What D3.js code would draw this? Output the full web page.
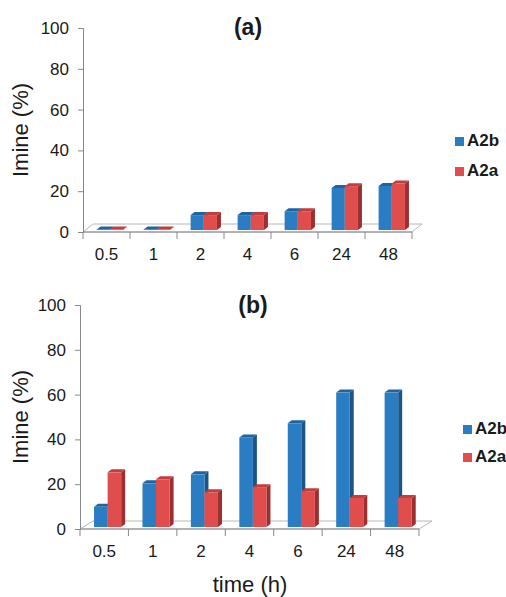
<!DOCTYPE html>
<html>
<meta charset="utf-8">
<style>
    body { margin: 0; background: #fff; }
    text { font-family: "Liberation Sans", Arial, sans-serif; fill: #1a1a1a; }
</style>

<body>
    <script src="https://d3js.org/d3.v7.min.js"></script>
    <script>

        // data
        var times = ["0.5", "1", "2", "4", "6", "24", "48"];
        var series = ["A2b", "A2a"];
        var yTicks = [0, 20, 40, 60, 80, 100];

        var a_A2b = [0.3, 0.3, 7.3, 7.3, 9.2, 20.6, 21.6];
        var a_A2a = [0.3, 0.3, 7.3, 7.3, 9.2, 21.5, 22.8];

        var b_A2b = [9, 19.5, 23.5, 40, 46.3, 60, 60];
        var b_A2a = [24.4, 21.3, 15.5, 17.8, 16, 13, 13];

        // colours: front, side, top
        var colors = {
            A2b: { front: "#2a7dc3", side: "#1c5488", top: "#1f63a0" },
            A2a: { front: "#e04d4d", side: "#9c2f2f", top: "#c23d3d" }
        };

        var svg = d3.select("body").append("svg")
            .attr("width", 506)
            .attr("height", 597);

        // draw one 3D-looking clustered bar panel
        function drawPanel(p) {
            var g = svg.append("g");

            var x0 = d3.scaleBand().domain(times).range([p.axisX, p.xEnd]);
            var bw = x0.bandwidth();
            var x1 = d3.scaleBand().domain(series).range([0, bw * 0.56]);
            var y = d3.scaleLinear().domain([0, 100]).range([p.yBot, p.yTop]);

            // floor
            var fdx = p.floorDx, fdy = -8;
            g.append("path")
                .attr("d", "M" + p.axisX + "," + y(0) +
                    "L" + (p.axisX + fdx) + "," + (y(0) + fdy) +
                    "L" + (p.xEnd + fdx) + "," + (y(0) + fdy) +
                    "L" + p.xEnd + "," + y(0) + "Z")
                .attr("fill", "#fff")
                .attr("stroke", "#b8b8b8")
                .attr("stroke-width", 1);

            // Y axis
            var yAxis = g.append("g")
                .attr("transform", "translate(" + p.axisX + ",0)")
                .call(d3.axisLeft(y).tickValues(yTicks).tickSize(5).tickPadding(9));
            yAxis.select(".domain").attr("stroke", "#888");
            yAxis.selectAll(".tick line").attr("stroke", "#888");
            yAxis.selectAll(".tick text")
                .style("font-size", "17px")
                .style("font-family", "Liberation Sans, Arial, sans-serif")
                .attr("fill", "#1a1a1a");

            // X axis line and category ticks
            g.append("line")
                .attr("x1", p.axisX).attr("x2", p.xEnd)
                .attr("y1", y(0)).attr("y2", y(0))
                .attr("stroke", "#888");
            g.selectAll(".xtick")
                .data(times.concat(["end"]))
                .enter().append("line")
                .attr("x1", function (d, i) { return p.axisX + i * bw; })
                .attr("x2", function (d, i) { return p.axisX + i * bw; })
                .attr("y1", y(0))
                .attr("y2", y(0) + 7)
                .attr("stroke", "#888");
            g.selectAll(".xlab")
                .data(times)
                .enter().append("text")
                .attr("x", function (d) { return x0(d) + bw * 0.5; })
                .attr("y", p.tickY)
                .attr("text-anchor", "middle")
                .style("font-size", "17px")
                .text(function (d) { return d; });

            // bars
            var dx = 4, dy = -3, base = y(0) - 2;
            var rows = [];
            times.forEach(function (t, i) {
                series.forEach(function (s) {
                    rows.push({ t: t, s: s, v: p.values[s][i] });
                });
            });
            var bars = g.selectAll(".bar")
                .data(rows)
                .enter().append("g");
            bars.each(function (d) {
                var xl = x0(d.t) + bw * 0.29 + x1(d.s);
                var w = x1.bandwidth();
                var top = y(d.v) - 2;
                var c = colors[d.s];
                var el = d3.select(this);
                // side
                el.append("path")
                    .attr("d", "M" + (xl + w) + "," + base +
                        "L" + (xl + w + dx) + "," + (base + dy) +
                        "L" + (xl + w + dx) + "," + (top + dy) +
                        "L" + (xl + w) + "," + top + "Z")
                    .attr("fill", c.side);
                // top
                el.append("path")
                    .attr("d", "M" + xl + "," + top +
                        "L" + (xl + dx) + "," + (top + dy) +
                        "L" + (xl + w + dx) + "," + (top + dy) +
                        "L" + (xl + w) + "," + top + "Z")
                    .attr("fill", c.top);
                // front
                el.append("rect")
                    .attr("x", xl)
                    .attr("y", top)
                    .attr("width", w)
                    .attr("height", Math.max(0, base - top))
                    .attr("fill", c.front);
            });

            // title
            g.append("text")
                .attr("x", p.titleX)
                .attr("y", p.titleY)
                .attr("text-anchor", "middle")
                .style("font-size", "23px")
                .style("font-weight", "bold")
                .text(p.title);

            // y label
            g.append("text")
                .attr("transform", "translate(28," + p.ylabY + ") rotate(-90)")
                .attr("text-anchor", "middle")
                .style("font-size", "22px")
                .text("Imine (%)");

            // legend
            series.forEach(function (s, i) {
                g.append("rect")
                    .attr("x", p.legX)
                    .attr("y", p.legY + i * p.legGap)
                    .attr("width", 9)
                    .attr("height", 9)
                    .attr("fill", colors[s].front);
                g.append("text")
                    .attr("x", p.legX + 12)
                    .attr("y", p.legY + i * p.legGap + 9)
                    .style("font-size", "17px")
                    .style("font-weight", "bold")
                    .text(s);
            });
        }

        drawPanel({
            axisX: 83, xEnd: 412, yTop: 28, yBot: 232, floorDx: 10,
            values: { A2b: a_A2b, A2a: a_A2a },
            tickY: 260, title: "(a)", titleX: 248, titleY: 35, ylabY: 130,
            legX: 455, legY: 137, legGap: 30
        });

        drawPanel({
            axisX: 80, xEnd: 419, yTop: 305, yBot: 529, floorDx: 13,
            values: { A2b: b_A2b, A2a: b_A2a },
            tickY: 557, title: "(b)", titleX: 253, titleY: 313, ylabY: 417,
            legX: 463, legY: 425, legGap: 28
        });

        // x axis label
        svg.append("text")
            .attr("x", 250)
            .attr("y", 592)
            .attr("text-anchor", "middle")
            .style("font-size", "22px")
            .text("time (h)");

    </script>
</body>
</html>
